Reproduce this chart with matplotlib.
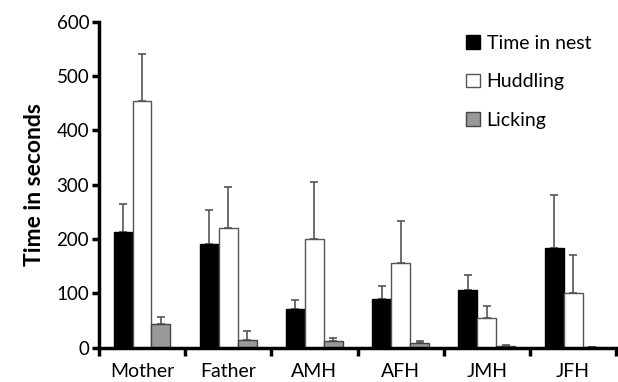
import numpy as np
import matplotlib
matplotlib.use("Agg")
import matplotlib.pyplot as plt
from matplotlib.patches import Patch

plt.rcParams['font.family'] = ['Lato', 'DejaVu Sans']

groups = ['Mother', 'Father', 'AMH', 'AFH', 'JMH', 'JFH']
series = ['Time in nest', 'Huddling', 'Licking']
nest = [212, 191, 71, 90, 106, 183]
nest_err = [53, 63, 17, 24, 27, 98]
huddling = [455, 220, 200, 155, 55, 101]
huddling_err = [86, 75, 105, 79, 22, 70]
licking = [43, 14, 12, 8, 3, 2]
licking_err = [13, 16, 5, 5, 1.5, 0]

fills = ['black', 'white', '#999999']
edges = ['black', '#555555', '#444444']

fig = plt.figure(figsize=(6.18, 3.82), dpi=100)
ax = fig.add_axes([0.160, 0.090, 0.837, 0.853])

x = np.arange(len(groups))
w = 0.22
for i, (vals, errs) in enumerate([(nest, nest_err), (huddling, huddling_err), (licking, licking_err)]):
    pos = x + (i - 1) * w
    ax.bar(pos, vals, w, color=fills[i], edgecolor=edges[i], linewidth=1.0, zorder=2)
    ax.errorbar(pos, vals, yerr=[np.zeros(len(vals)), errs], fmt='none',
                ecolor='#555555', elinewidth=1.2, capsize=3.2, capthick=1.2, zorder=1)

ax.set_xlim(-0.5, len(groups) - 0.5)
ax.set_ylim(0, 600)
ax.set_yticks(range(0, 601, 100))
ax.set_xticks(np.arange(-0.5, len(groups)), minor=False)
ax.set_xticklabels([])
ax.set_xticks(x, minor=True)
ax.set_xticklabels(groups, minor=True)
ax.tick_params(axis='x', which='major', length=6, width=2.5, direction='out')
ax.tick_params(axis='x', which='minor', length=0, labelsize=14, pad=11)
ax.tick_params(axis='y', length=5, width=2.5, labelsize=13.5, pad=2)

for s in ['top', 'right']:
    ax.spines[s].set_visible(False)
for s in ['left', 'bottom']:
    ax.spines[s].set_linewidth(2.5)

ax.set_ylabel('Time in seconds', fontsize=16.5, fontweight='bold', labelpad=8)

handles = [Patch(facecolor=fills[i], edgecolor=edges[i]) for i in range(3)]
ax.legend(handles, series, loc='upper left', bbox_to_anchor=(0.71, 0.96),
          borderaxespad=0, borderpad=0, frameon=False, fontsize=14,
          handlelength=0.7, handleheight=0.7, handletextpad=0.35, labelspacing=1.1)

fig.savefig('out.png', dpi=100, facecolor='white')
